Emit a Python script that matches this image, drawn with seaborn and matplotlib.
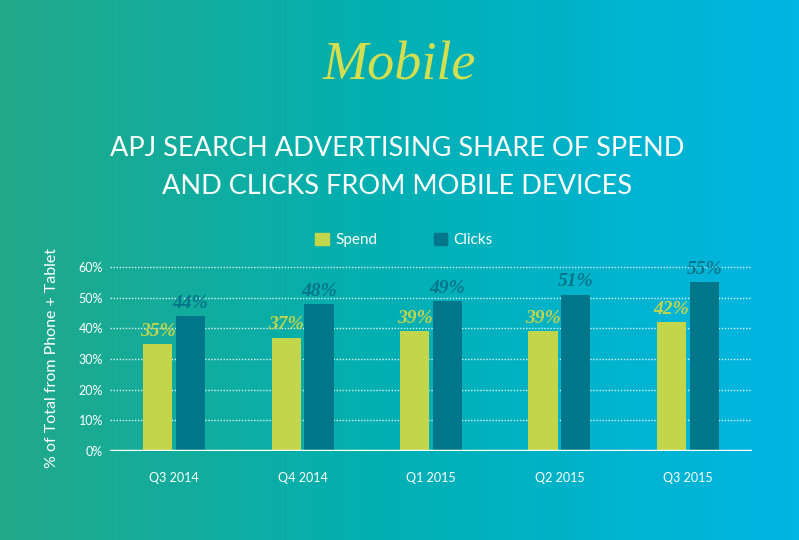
import numpy as np
import pandas as pd
import seaborn as sns
import matplotlib.pyplot as plt
from matplotlib.patches import Patch
from matplotlib.colors import LinearSegmentedColormap

# data
quarters = ["Q3 2014", "Q4 2014", "Q1 2015", "Q2 2015", "Q3 2015"]
spend = [35, 37, 39, 39, 42]
clicks = [44, 48, 49, 51, 55]
y_ticks = [0, 10, 20, 30, 40, 50, 60]

spend_col = "#c3d54a"
clicks_col = "#00768a"
title_col = "#d3df4f"

df = pd.DataFrame({
    "quarter": quarters * 2,
    "series": ["Spend"] * len(quarters) + ["Clicks"] * len(quarters),
    "value": spend + clicks,
})

sns.set_style("white")
plt.rcParams["font.family"] = ["Lato", "DejaVu Sans"]

fig = plt.figure(figsize=(7.99, 5.40), dpi=100)

# gradient background
bg = fig.add_axes([0, 0, 1, 1], zorder=-10)
cmap = LinearSegmentedColormap.from_list("bg", ["#22a98a", "#00b0b4", "#00b6e4"])
bg.imshow(np.linspace(0, 1, 256).reshape(1, -1), cmap=cmap, aspect="auto",
          extent=[0, 1, 0, 1])
bg.axis("off")

ax = fig.add_axes([110 / 799, 89 / 540, 642 / 799, 199.3 / 540])
ax.patch.set_alpha(0)

sns.barplot(data=df, x="quarter", y="value", hue="series",
            palette={"Spend": spend_col, "Clicks": clicks_col},
            width=0.51, gap=0.11, saturation=1, legend=False, ax=ax,
            linewidth=0, zorder=3)

ax.set_xlim(-0.5, 4.5)
ax.set_ylim(0, 65)
ax.set_yticks(y_ticks)
ax.set_yticklabels([f"{t}%" for t in y_ticks])

# dotted grid + solid baseline
for t in y_ticks[1:]:
    ax.axhline(t, color="white", lw=1, ls=(0, (1, 1.2)), alpha=0.85, zorder=1)
ax.axhline(0, color="white", lw=2.5, zorder=4)

for cont, col in zip(ax.containers, [spend_col, clicks_col]):
    ax.bar_label(cont, labels=[f"{int(b.get_height())}%" for b in cont],
                 padding=3, color=col, fontfamily="Liberation Serif",
                 fontstyle="italic", fontweight="bold", fontsize=14)

for s in ax.spines.values():
    s.set_visible(False)
ax.tick_params(axis="x", length=0, pad=15, colors="white", labelsize=9)
ax.tick_params(axis="y", length=0, pad=5, colors="white", labelsize=9)
ax.set_xlabel("")
ax.set_ylabel("% of Total from Phone + Tablet", color="white", fontsize=11.5)
ax.yaxis.set_label_coords(-0.079, 0.467)

handles = [Patch(color=spend_col, label="Spend"),
           Patch(color=clicks_col, label="Clicks")]
leg = fig.legend(handles=handles, loc="center", bbox_to_anchor=(404 / 799, 1 - 240 / 540),
                 ncol=2, frameon=False, fontsize=11, handlelength=0.9, handleheight=0.9,
                 handletextpad=0.4, columnspacing=3.7)
for txt in leg.get_texts():
    txt.set_color("white")

fig.text(0.5, 1 - 66 / 540, "Mobile", ha="center", va="center", color=title_col,
         fontfamily="Liberation Serif", fontstyle="italic", fontsize=39)
fig.text(397 / 799, 1 - 148 / 540, "APJ SEARCH ADVERTISING SHARE OF SPEND",
         ha="center", va="center", color="white", fontsize=19.5, fontweight="normal")
fig.text(397 / 799, 1 - 186 / 540, "AND CLICKS FROM MOBILE DEVICES",
         ha="center", va="center", color="white", fontsize=19.5, fontweight="normal")

fig.savefig("out.png", dpi=100)
